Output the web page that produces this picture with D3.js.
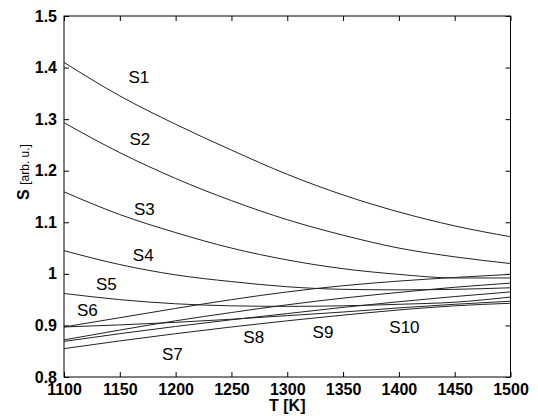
<!DOCTYPE html>
<html>
<head>
<meta charset="utf-8">
<script src="https://cdn.jsdelivr.net/npm/d3@7"></script>
<style>
body { margin: 0; background: #fff; }
text { font-family: "Liberation Sans", Arial, sans-serif; fill: #000; }
</style>
</head>
<body>
<div id="chart"></div>
<script>
var width = 538, height = 419;
var margin = {top: 16, right: 27.5, bottom: 42, left: 64};

// temperatures (K) where the curves are sampled
var temps = [1100, 1150, 1200, 1250, 1300, 1350, 1400, 1450, 1500];

// S values
var s1  = [1.410, 1.345, 1.290, 1.240, 1.193, 1.153, 1.120, 1.093, 1.072];
var s2  = [1.293, 1.235, 1.185, 1.142, 1.105, 1.075, 1.050, 1.033, 1.020];
var s3  = [1.159, 1.115, 1.080, 1.050, 1.027, 1.010, 0.999, 0.992, 0.992];
var s4  = [1.045, 1.018, 0.998, 0.985, 0.975, 0.970, 0.969, 0.970, 0.973];
var s5  = [0.962, 0.950, 0.942, 0.938, 0.937, 0.938, 0.941, 0.945, 0.955];
var s6  = [0.897, 0.915, 0.933, 0.950, 0.965, 0.977, 0.986, 0.993, 0.999];
var s7  = [0.855, 0.870, 0.884, 0.897, 0.909, 0.920, 0.930, 0.938, 0.943];
var s8  = [0.897, 0.901, 0.906, 0.912, 0.919, 0.926, 0.934, 0.941, 0.947];
var s9  = [0.872, 0.891, 0.909, 0.925, 0.940, 0.953, 0.964, 0.974, 0.982];
var s10 = [0.869, 0.884, 0.898, 0.911, 0.923, 0.935, 0.946, 0.956, 0.965];

var seriesNames = ["S1", "S2", "S3", "S4", "S5", "S6", "S7", "S8", "S9", "S10"];
var seriesValues = [s1, s2, s3, s4, s5, s6, s7, s8, s9, s10];

// where each curve name is written (T, S)
var labelT = [1167, 1168, 1172, 1171, 1138, 1121, 1197, 1270, 1332, 1405];
var labelS = [1.381, 1.261, 1.125, 1.037, 0.981, 0.930, 0.845, 0.878, 0.888, 0.897];

var xTicks = [1100, 1150, 1200, 1250, 1300, 1350, 1400, 1450, 1500];
var yTicks = [0.8, 0.9, 1.0, 1.1, 1.2, 1.3, 1.4, 1.5];
var yTickLabels = ["0.8", "0.9", "1", "1.1", "1.2", "1.3", "1.4", "1.5"];

var svg = d3.select("#chart")
    .append("svg")
    .attr("width", width)
    .attr("height", height);

var plotW = width - margin.left - margin.right,
    plotH = height - margin.top - margin.bottom;

var g = svg.append("g")
    .attr("transform", "translate(" + margin.left + "," + margin.top + ")");

var x = d3.scaleLinear().domain([1100, 1500]).range([0, plotW]);
var y = d3.scaleLinear().domain([0.8, 1.5]).range([plotH, 0]);

// MATLAB style axes: ticks pointing inward on all four sides
function styleAxis(sel) {
    sel.select(".domain").remove();
    sel.selectAll(".tick line").attr("stroke", "#000");
}

g.append("g")
    .attr("transform", "translate(0," + plotH + ")")
    .call(d3.axisBottom(x).tickValues(xTicks).tickFormat(d3.format("d"))
        .tickSizeInner(-5).tickSizeOuter(0).tickPadding(7))
    .call(styleAxis)
    .selectAll("text")
    .style("font-size", "16px").style("font-weight", "bold");

g.append("g")
    .call(d3.axisTop(x).tickValues(xTicks).tickFormat("").tickSizeInner(-5).tickSizeOuter(0))
    .call(styleAxis);

g.append("g")
    .call(d3.axisLeft(y).tickValues(yTicks)
        .tickFormat(function (d, i) { return yTickLabels[i]; })
        .tickSizeInner(-5).tickSizeOuter(0).tickPadding(7))
    .call(styleAxis)
    .selectAll("text")
    .style("font-size", "16px").style("font-weight", "bold");

g.append("g")
    .attr("transform", "translate(" + plotW + ",0)")
    .call(d3.axisRight(y).tickValues(yTicks).tickFormat("").tickSizeInner(-5).tickSizeOuter(0))
    .call(styleAxis);

// frame
g.append("rect")
    .attr("width", plotW)
    .attr("height", plotH)
    .attr("fill", "none")
    .attr("stroke", "#000")
    .attr("stroke-width", 1);

var line = d3.line()
    .x(function (d, i) { return x(temps[i]); })
    .y(function (d) { return y(d); })
    .curve(d3.curveMonotoneX);

g.selectAll("path.curve")
    .data(seriesValues)
    .enter()
    .append("path")
    .attr("class", "curve")
    .attr("d", line)
    .attr("fill", "none")
    .attr("stroke", "#222")
    .attr("stroke-width", 1);

g.selectAll("text.name")
    .data(seriesNames)
    .enter()
    .append("text")
    .attr("class", "name")
    .attr("x", function (d, i) { return x(labelT[i]); })
    .attr("y", function (d, i) { return y(labelS[i]); })
    .attr("text-anchor", "middle")
    .attr("dy", "0.35em")
    .style("font-size", "17px")
    .text(function (d) { return d; });

// axis titles
svg.append("text")
    .attr("x", margin.left + plotW / 2)
    .attr("y", 411)
    .attr("text-anchor", "middle")
    .style("font-size", "16px")
    .style("font-weight", "bold")
    .text("T [K]");

var yl = svg.append("text")
    .attr("transform", "translate(29," + 172 + ") rotate(-90)")
    .attr("text-anchor", "middle");
yl.append("tspan").style("font-size", "16px").style("font-weight", "bold").text("S ");
yl.append("tspan").style("font-size", "12px").text("[arb. u.]");
</script>
</body>
</html>
